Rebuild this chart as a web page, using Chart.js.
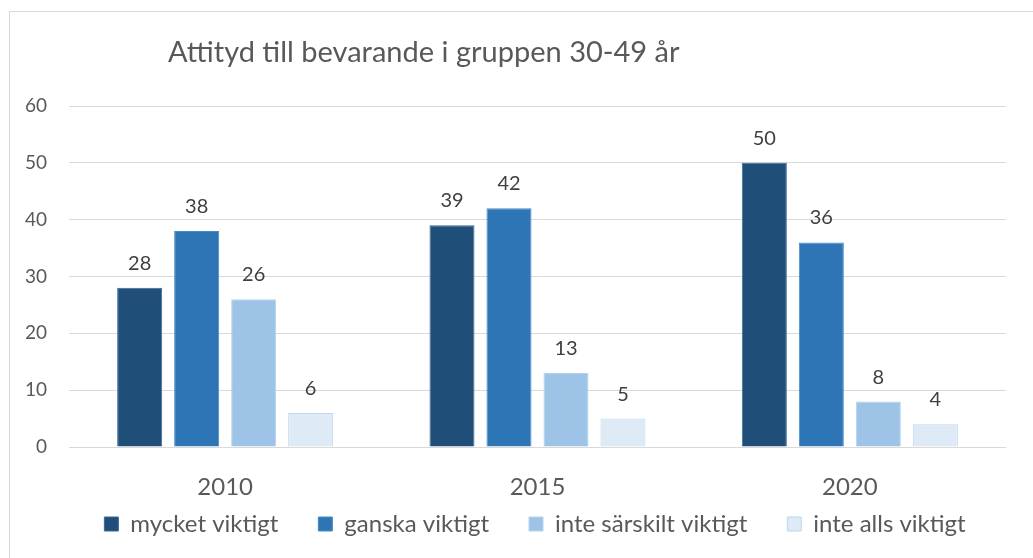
<!DOCTYPE html>
<html>
<head>
<meta charset="utf-8">
<script src="https://cdn.jsdelivr.net/npm/chart.js@4"></script>
<style>
  html, body { margin: 0; padding: 0; background: #fff; overflow: hidden; }
  #wrap { position: relative; width: 1033px; height: 558px; overflow: hidden; }
  #frame { position: absolute; left: 9px; top: 11px; width: 1100px; height: 600px; border: 1px solid #d9d9d9; box-sizing: border-box; }
  canvas { position: absolute; left: 0; top: 0; }
</style>
</head>
<body>
<div id="wrap">
  <div id="frame"></div>
  <canvas id="c" width="1033" height="600"></canvas>
</div>
<script>
const chartTitle = "Attityd till bevarande i gruppen 30-49 år";
const categories = ["2010", "2015", "2020"];
const seriesNames = ["mycket viktigt", "ganska viktigt", "inte särskilt viktigt", "inte alls viktigt"];
const mycketViktigt = [28, 39, 50];
const ganskaViktigt = [38, 42, 36];
const inteSarskiltViktigt = [26, 13, 8];
const inteAllsViktigt = [6, 5, 4];
const yTicks = [0, 10, 20, 30, 40, 50, 60];

const fills = ["#1f4e79", "#2e75b6", "#9dc3e6", "#deebf7"];
const borders = ["#3a6a96", "#4a8ac4", "#b4d2ee", "#bdd7ee"];
const seriesValues = [mycketViktigt, ganskaViktigt, inteSarskiltViktigt, inteAllsViktigt];

const FONT = "Lato, 'Open Sans', sans-serif";

const titlePlugin = {
  id: 'customTitle',
  afterDraw(chart) {
    const ctx = chart.ctx;
    ctx.save();
    ctx.font = "29px " + FONT;
    ctx.fillStyle = "#595959";
    ctx.textAlign = "left";
    ctx.textBaseline = "middle";
    ctx.fillText(chartTitle, 168, 53);
    ctx.restore();
  }
};

const labelPlugin = {
  id: 'barLabels',
  afterDatasetsDraw(chart) {
    const ctx = chart.ctx;
    ctx.save();
    ctx.font = "20px " + FONT;
    ctx.fillStyle = "#404040";
    ctx.textAlign = "center";
    ctx.textBaseline = "alphabetic";
    chart.data.datasets.forEach((ds, i) => {
      const meta = chart.getDatasetMeta(i);
      meta.data.forEach((bar, j) => {
        ctx.fillText(String(ds.data[j]), bar.x, bar.y - 18);
      });
    });
    ctx.restore();
  }
};

// Nudge the legend box so it sits like the reference (closer to the axis labels, slightly right of centre)
const legendNudge = {
  id: 'legendNudge',
  afterLayout(chart) {
    const lg = chart.legend;
    if (!lg) return;
    lg.top -= 31; lg.bottom -= 31;
    lg.left += 32; lg.right += 32;
  }
};

new Chart(document.getElementById('c'), {
  type: 'bar',
  data: {
    labels: categories,
    datasets: seriesNames.map((name, i) => ({
      label: name,
      data: seriesValues[i],
      backgroundColor: fills[i],
      borderColor: borders[i],
      borderWidth: 1,
      categoryPercentage: 0.73,
      barPercentage: 0.79
    }))
  },
  options: {
    responsive: false,
    animation: false,
    devicePixelRatio: 1,
    layout: { padding: { top: 106, right: 27, left: 0, bottom: 23 } },
    plugins: {
      title: { display: false },
      tooltip: { enabled: false },
      legend: {
        position: 'bottom',
        labels: {
          font: { family: FONT, size: 24 },
          color: "#595959",
          boxWidth: 14,
          boxHeight: 14,
          padding: 40,
          generateLabels(chart) {
            return chart.data.datasets.map((ds, i) => ({
              text: ds.label,
              fillStyle: ds.backgroundColor,
              strokeStyle: ds.borderColor,
              lineWidth: 1,
              datasetIndex: i,
              fontColor: "#595959"
            }));
          }
        }
      }
    },
    scales: {
      x: {
        afterFit(scale) { scale.height = 56; },
        grid: { display: false, drawTicks: false },
        border: { display: false },
        ticks: { font: { family: FONT, size: 24 }, color: "#595959", padding: 26 }
      },
      y: {
        min: 0, max: 60,
        afterFit(scale) { scale.width = 69; },
        afterBuildTicks(scale) { scale.ticks = yTicks.map(v => ({ value: v })); },
        grid: { color: "#d9d9d9", lineWidth: 1, drawTicks: false },
        border: { display: false },
        ticks: { font: { family: FONT, size: 19 }, color: "#595959", padding: 22 }
      }
    }
  },
  plugins: [titlePlugin, labelPlugin, legendNudge]
});
</script>
</body>
</html>
